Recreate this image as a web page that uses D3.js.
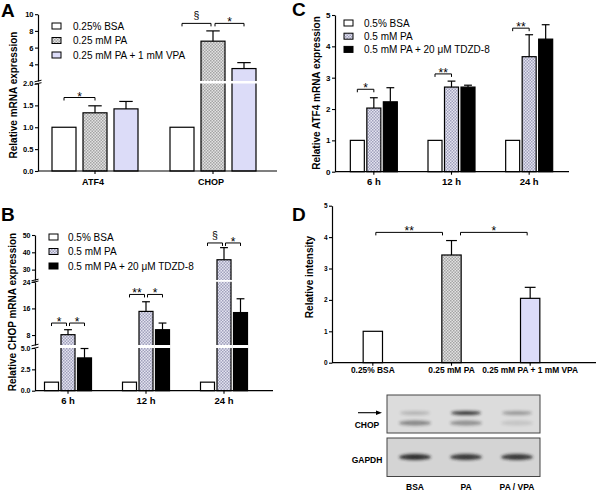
<!DOCTYPE html>
<html><head><meta charset="utf-8">
<script src="https://cdn.jsdelivr.net/npm/d3@7"></script>
<style>body{margin:0;background:#fff}svg{display:block;font-family:"Liberation Sans",Arial,sans-serif}</style>
</head><body><svg width="600" height="491"></svg>
<script>
// ---------- DATA ----------
const aCategories = ["ATF4", "CHOP"];
const aSeries = ["0.25% BSA", "0.25 mM PA", "0.25 mM PA + 1 mM VPA"];
const aMeans = [[1.0, 1.33, 1.42], [1.0, 6.77, 3.49]];
const aErrors = [[0, 0.16, 0.17], [0, 1.23, 0.71]];
const aTicksLow = [0, 0.5, 1, 1.5, 2];
const aTicksHigh = [4, 6, 8, 10];
const aSig = [
  {a: [0, 0], b: [0, 1], at: 1.68, label: "*"},
  {a: [1, 0], b: [1, 1], at: 8.9, label: "§"},
  {a: [1, 1], b: [1, 2], at: 8.9, label: "*"}
];

const bCategories = ["6 h", "12 h", "24 h"];
const bSeries = ["0.5% BSA", "0.5 mM PA", "0.5 mM PA + 20 μM TDZD-8"];
const bMeans = [[1.0, 8.1, 3.84], [1.0, 15.1, 9.6], [1.0, 35.7, 14.75]];
const bErrors = [[0, 1.5, 1.1], [0, 2.9, 2.0], [0, 7.0, 4.15]];
const bTicks1 = [0, 2.5, 5];
const bTicks2 = [8, 16, 24];
const bTicks3 = [30, 40, 50];
const bSig = [
  {a: [0, 0], b: [0, 1], at: 11.6, label: "*"},
  {a: [0, 1], b: [0, 2], at: 11.6, label: "*"},
  {a: [1, 0], b: [1, 1], at: 20.2, label: "**"},
  {a: [1, 1], b: [1, 2], at: 20.2, label: "*"},
  {a: [2, 0], b: [2, 1], at: 45.4, label: "§"},
  {a: [2, 1], b: [2, 2], at: 45.4, label: "*"}
];

const cCategories = ["6 h", "12 h", "24 h"];
const cSeries = ["0.5% BSA", "0.5 mM PA", "0.5 mM PA + 20 μM TDZD-8"];
const cMeans = [[1.0, 2.03, 2.23], [1.0, 2.70, 2.70], [1.0, 3.67, 4.23]];
const cErrors = [[0, 0.33, 0.45], [0, 0.19, 0.06], [0, 0.70, 0.46]];
const cTicks = [0, 1, 2, 3, 4, 5];
const cSig = [
  {a: [0, 0], b: [0, 1], at: 2.63, label: "*"},
  {a: [1, 0], b: [1, 1], at: 3.12, label: "**"},
  {a: [2, 0], b: [2, 1], at: 4.58, label: "**"}
];

const dCategories = ["0.25% BSA", "0.25 mM PA", "0.25 mM PA + 1 mM VPA"];
const dMeans = [[1.0], [3.43], [2.05]];
const dErrors = [[0], [0.46], [0.35]];
const dTicks = [0, 1, 2, 3, 4, 5];
const dSig = [
  {a: [0, 0], b: [1, 0], at: 4.15, label: "**"},
  {a: [1, 0], b: [2, 0], at: 4.15, label: "*"}
];

const blotLanes = ["BSA", "PA", "PA / VPA"];
const chopUpperBand = [0.2, 0.85, 0.35];
const chopLowerBand = [0.45, 0.4, 0.12];
const gapdhBand = [0.9, 0.85, 0.85];

// ---------- DRAW ----------
const svg = d3.select("svg");
const defs = svg.append("defs");
function checker(id, bg, fg) {
  const p = defs.append("pattern").attr("id", id).attr("width", 3).attr("height", 3)
    .attr("patternUnits", "userSpaceOnUse");
  p.append("rect").attr("width", 3).attr("height", 3).attr("fill", bg);
  p.append("rect").attr("width", 1.5).attr("height", 1.5).attr("fill", fg);
  p.append("rect").attr("x", 1.5).attr("y", 1.5).attr("width", 1.5).attr("height", 1.5).attr("fill", fg);
}
checker("patGray", "#e2e2e2", "#a4a4a4");
checker("patBlue", "#e4e4f0", "#a0a0bc");
defs.append("filter").attr("id", "blur").attr("x", "-50%").attr("y", "-100%").attr("width", "200%").attr("height", "300%")
  .append("feGaussianBlur").attr("stdDeviation", 1.6);

const fillsA = ["#ffffff", "url(#patGray)", "#dcdcf8"];
const fillsB = ["#ffffff", "url(#patBlue)", "#000000"];

function drawPanel(cfg) {
  const g = svg.append("g");
  const dom = [], rng = [];
  cfg.segments.forEach(s => { dom.push(s.domain[0], s.domain[1]); rng.push(s.range[0], s.range[1]); });
  for (let i = 1; i < dom.length; i++) if (dom[i] <= dom[i - 1]) dom[i] = dom[i - 1] + 1e-9;
  const y = d3.scaleLinear().domain(dom).range(rng);
  const nS = cfg.means[0].length;
  const x0 = d3.scaleBand().domain(d3.range(cfg.categories.length)).range(cfg.xRange)
    .paddingInner(cfg.gpi || 0).paddingOuter(cfg.gpo || 0);
  const p = 1 - cfg.bw / cfg.stride;
  const span = cfg.stride * (nS - p);
  const x1 = d3.scaleBand().domain(d3.range(nS)).range([0, span]).paddingInner(p).paddingOuter(0);
  const cx = c => x0(c) + x0.bandwidth() / 2;
  const barX = (c, s) => cx(c) - span / 2 + x1(s);
  const barC = (c, s) => barX(c, s) + x1.bandwidth() / 2;
  const y0 = y(0);
  const bw = x1.bandwidth();

  cfg.segments.forEach(s => {
    const sc = d3.scaleLinear().domain(s.domain).range(s.range);
    const ax = d3.axisLeft(sc).tickValues(s.ticks).tickFormat(d3.format(s.fmt)).tickSize(3).tickSizeOuter(0);
    const ga = g.append("g").attr("transform", `translate(${cfg.axisX},0)`).call(ax);
    ga.select(".domain").attr("stroke", "#000").attr("stroke-width", 1.2);
    ga.selectAll(".tick line").attr("stroke", "#000").attr("stroke-width", 1.1);
    ga.selectAll(".tick text").attr("font-size", cfg.tickFont).attr("font-weight", "bold")
      .attr("fill", "#000").attr("x", -4.5).attr("font-family", "Liberation Sans, Arial, sans-serif");
  });
  for (let i = 1; i < cfg.segments.length; i++) {
    const lo = cfg.segments[i - 1].range[1], hi = cfg.segments[i].range[0];
    [lo, hi].forEach(yy => g.append("line").attr("x1", cfg.axisX - 3.5).attr("x2", cfg.axisX + 3.5)
      .attr("y1", yy + 0.8).attr("y2", yy - 0.8).attr("stroke", "#000").attr("stroke-width", 1));
  }

  const flat = [];
  cfg.means.forEach((row, c) => row.forEach((v, s) => flat.push({c, s, v, e: cfg.errors[c][s]})));

  g.selectAll("rect.bar").data(flat).join("rect").attr("class", "bar")
    .attr("x", d => barX(d.c, d.s)).attr("y", d => y(d.v))
    .attr("width", bw).attr("height", d => y0 - y(d.v))
    .attr("fill", d => cfg.fill(d.c, d.s)).attr("stroke", "#000").attr("stroke-width", 1.2);

  const eb = flat.filter(d => d.e > 0);
  g.selectAll("line.err").data(eb).join("line").attr("class", "err")
    .attr("x1", d => barC(d.c, d.s)).attr("x2", d => barC(d.c, d.s))
    .attr("y1", d => y(d.v)).attr("y2", d => y(d.v + d.e)).attr("stroke", "#000").attr("stroke-width", 1.2);
  g.selectAll("line.cap").data(eb).join("line").attr("class", "cap")
    .attr("x1", d => barC(d.c, d.s) - bw * 0.28).attr("x2", d => barC(d.c, d.s) + bw * 0.28)
    .attr("y1", d => y(d.v + d.e)).attr("y2", d => y(d.v + d.e)).attr("stroke", "#000").attr("stroke-width", 1.2);

  for (let i = 1; i < cfg.segments.length; i++) {
    const lo = cfg.segments[i - 1].range[1], hi = cfg.segments[i].range[0];
    const top = cfg.segments[i - 1].domain[1];
    g.selectAll(null).data(flat.filter(d => d.v > top)).join("rect")
      .attr("x", d => barX(d.c, d.s) - 1).attr("width", bw + 2)
      .attr("y", hi).attr("height", lo - hi).attr("fill", "#fff");
  }

  g.append("line").attr("x1", cfg.axisX).attr("x2", cfg.xAxisEnd).attr("y1", y0).attr("y2", y0)
    .attr("stroke", "#000").attr("stroke-width", 1.2);
  g.selectAll("line.xt").data(cfg.categories).join("line").attr("class", "xt")
    .attr("x1", (d, i) => cx(i)).attr("x2", (d, i) => cx(i)).attr("y1", y0).attr("y2", y0 + 3)
    .attr("stroke", "#000").attr("stroke-width", 1.1);
  g.selectAll("text.cat").data(cfg.categories).join("text").attr("class", "cat")
    .attr("x", (d, i) => cx(i) + (cfg.catShift || 0)).attr("y", cfg.catY).attr("text-anchor", "middle")
    .attr("font-size", cfg.catFont).attr("font-weight", "bold").text(d => d);

  const key = e => e.join(",");
  cfg.sig.forEach(b => {
    const sharedA = cfg.sig.some(o => o !== b && key(o.b) === key(b.a));
    const sharedB = cfg.sig.some(o => o !== b && key(o.a) === key(b.b));
    const xa = barC(b.a[0], b.a[1]) + (sharedA ? cfg.inset[1] : cfg.inset[0]);
    const xb = barC(b.b[0], b.b[1]) - (sharedB ? cfg.inset[1] : cfg.inset[0]);
    const yb = y(b.at);
    g.append("path").attr("d", `M${xa},${yb + 3}V${yb}H${xb}V${yb + 3}`)
      .attr("fill", "none").attr("stroke", "#000").attr("stroke-width", 1);
    const isS = b.label === "§";
    g.append("text").attr("x", (xa + xb) / 2).attr("y", isS ? yb - 4 : yb + 3)
      .attr("text-anchor", "middle").attr("font-size", isS ? 10.5 : 12).text(b.label);
  });

  if (cfg.series) {
    cfg.series.forEach((s, i) => {
      const yy = cfg.legend.y + i * cfg.legend.dy;
      g.append("rect").attr("x", cfg.legend.x).attr("y", yy - 3).attr("width", 9).attr("height", 6)
        .attr("fill", cfg.fill(0, i)).attr("stroke", "#000").attr("stroke-width", 1);
      g.append("text").attr("x", cfg.legend.tx).attr("y", yy + 3.6).attr("font-size", 10).text(s);
    });
  }

  g.append("text").attr("transform", `translate(${cfg.ylab.x},${cfg.ylab.y}) rotate(-90)`)
    .attr("text-anchor", "middle").attr("font-size", cfg.ylab.size || 10).attr("font-weight", "bold").text(cfg.ylab.text);
}

drawPanel({
  categories: aCategories, series: aSeries, means: aMeans, errors: aErrors,
  segments: [
    {domain: [0, 2], range: [171, 83.5], ticks: aTicksLow, fmt: ".1f"},
    {domain: [2, 10], range: [81, 14.2], ticks: aTicksHigh, fmt: "d"}
  ],
  xRange: [36, 272], stride: 31, bw: 24, axisX: 38, xAxisEnd: 277,
  fill: (c, s) => fillsA[s], tickFont: 7.5, catFont: 9, catY: 185, catShift: -2,
  sig: aSig, inset: [0, 2],
  legend: {x: 52, y: 26, dy: 14.5, tx: 73},
  ylab: {x: 17, y: 95, text: "Relative mRNA expression"}
});

drawPanel({
  categories: bCategories, series: bSeries, means: bMeans, errors: bErrors,
  segments: [
    {domain: [0, 5], range: [390.7, 348], ticks: bTicks1, fmt: ".1f"},
    {domain: [5, 24], range: [345, 281.8], ticks: bTicks2, fmt: "d"},
    {domain: [24, 50], range: [280, 235], ticks: bTicks3, fmt: "d"}
  ],
  xRange: [29, 263], stride: 16.5, bw: 14, axisX: 35, xAxisEnd: 273,
  fill: (c, s) => fillsB[s], tickFont: 7, catFont: 9.5, catY: 403.5,
  sig: bSig, inset: [0, 1.5],
  legend: {x: 49, y: 237, dy: 14.5, tx: 68},
  ylab: {x: 16, y: 312, text: "Relative CHOP mRNA expression"}
});

drawPanel({
  categories: cCategories, series: cSeries, means: cMeans, errors: cErrors,
  segments: [{domain: [0, 5], range: [171.7, 15], ticks: cTicks, fmt: "d"}],
  xRange: [335, 568], stride: 16.5, bw: 14, axisX: 335, xAxisEnd: 569,
  fill: (c, s) => fillsB[s], tickFont: 8, catFont: 9.5, catY: 185,
  sig: cSig, inset: [0, 1.5],
  legend: {x: 344, y: 23, dy: 13.2, tx: 364},
  ylab: {x: 320, y: 93, text: "Relative ATF4 mRNA expression"}
});

drawPanel({
  categories: dCategories, series: null, means: dMeans, errors: dErrors,
  segments: [{domain: [0, 5], range: [362.7, 205.7], ticks: dTicks, fmt: "d"}],
  xRange: [333.5, 569.5], gpi: 0, gpo: 0, stride: 78.7, bw: 39, axisX: 332, xAxisEnd: 596,
  fill: (c, s) => fillsA[c], tickFont: 6.5, catFont: 8.4, catY: 373,
  sig: dSig, inset: [3, 9],
  ylab: {x: 313, y: 277, text: "Relative intensity"}
});

const blot = svg.append("g");
const lx = d3.scalePoint().domain(blotLanes).range([415, 517]);
const boxes = [
  {y: 395, h: 38, fill: "#dcdcdc", bands: [{dy: 18, vals: chopUpperBand, w: 30, h: 4}, {dy: 28, vals: chopLowerBand, w: 32, h: 5}]},
  {y: 438, h: 38.5, fill: "#d4d4d4", bands: [{dy: 19, vals: gapdhBand, w: 32, h: 6}]}
];
boxes.forEach(bx => {
  blot.append("rect").attr("x", 387).attr("y", bx.y).attr("width", 153).attr("height", bx.h)
    .attr("fill", bx.fill).attr("stroke", "#444").attr("stroke-width", 1);
  bx.bands.forEach(bd => {
    blot.selectAll(null).data(blotLanes).join("ellipse")
      .attr("cx", d => lx(d)).attr("cy", bx.y + bd.dy).attr("rx", bd.w / 2).attr("ry", bd.h / 2)
      .attr("fill", "#1a1a1a").attr("opacity", (d, i) => bd.vals[i]).attr("filter", "url(#blur)");
  });
});
blot.append("line").attr("x1", 358).attr("x2", 379).attr("y1", 412.7).attr("y2", 412.7).attr("stroke", "#000").attr("stroke-width", 1.1);
blot.append("path").attr("d", "M382,412.7L376,410.5L376,414.9Z").attr("fill", "#000");
blot.append("text").attr("x", 367).attr("y", 428).attr("text-anchor", "middle").attr("font-size", 8.5).attr("font-weight", "bold").text("CHOP");
blot.append("text").attr("x", 367).attr("y", 463).attr("text-anchor", "middle").attr("font-size", 8.5).attr("font-weight", "bold").text("GAPDH");
blot.selectAll("text.lane").data(blotLanes).join("text").attr("class", "lane")
  .attr("x", d => lx(d)).attr("y", 490).attr("text-anchor", "middle").attr("font-size", 8.5).attr("font-weight", "bold").text(d => d);

[["A", 1, 17], ["B", 1, 221], ["C", 292, 16], ["D", 292, 221]].forEach(([t, x, yy]) =>
  svg.append("text").attr("x", x).attr("y", yy).attr("font-size", 19).attr("font-weight", "bold").text(t));
</script>
</body></html>
